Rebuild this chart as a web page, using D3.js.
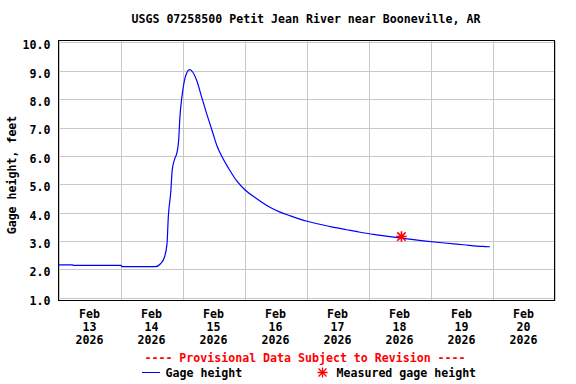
<!DOCTYPE html>
<html>
<head>
<meta charset="utf-8">
<script src="https://cdn.jsdelivr.net/npm/d3@7"></script>
<style>
  body { margin: 0; background: #fff; }
  svg text { font-family: "DejaVu Sans Mono", monospace; font-weight: bold; font-size: 11.6px; }
</style>
</head>
<body>
<svg width="576" height="384"></svg>
<script>
// gage height readings (time, feet)
var obsTimes = ["2026-02-13T00:00","2026-02-13T05:30","2026-02-13T05:45","2026-02-14T00:15","2026-02-14T00:30",
  "2026-02-14T13:30","2026-02-14T15:30","2026-02-14T17:00","2026-02-14T18:00","2026-02-14T18:30",
  "2026-02-14T19:30","2026-02-14T20:00","2026-02-14T21:00","2026-02-14T21:45","2026-02-14T22:30",
  "2026-02-14T23:00","2026-02-14T23:45","2026-02-15T00:45","2026-02-15T01:45","2026-02-15T02:45",
  "2026-02-15T04:00","2026-02-15T05:30","2026-02-15T07:30","2026-02-15T09:30","2026-02-15T11:30",
  "2026-02-15T13:15","2026-02-15T15:15","2026-02-15T17:45","2026-02-15T21:00","2026-02-16T00:15",
  "2026-02-16T04:45","2026-02-16T10:00","2026-02-16T13:45","2026-02-16T17:45","2026-02-17T00:15",
  "2026-02-17T09:15","2026-02-17T15:30","2026-02-17T20:45","2026-02-18T03:15","2026-02-18T09:45",
  "2026-02-18T15:00","2026-02-18T21:15","2026-02-19T04:30","2026-02-19T12:45","2026-02-19T20:00",
  "2026-02-19T23:00"];
var gageHeight = [2.16, 2.16, 2.14, 2.14, 2.10,
  2.10, 2.20, 2.43, 2.90, 3.84,
  4.78, 5.49, 5.90, 6.08, 6.54,
  7.37, 8.07, 8.66, 8.95, 9.04,
  8.95, 8.66, 8.05, 7.45, 6.88,
  6.38, 5.98, 5.58, 5.12, 4.80,
  4.49, 4.18, 4.02, 3.89, 3.70,
  3.51, 3.40, 3.31, 3.22, 3.14,
  3.08, 3.01, 2.94, 2.87, 2.81,
  2.80];

// field measurement
var measuredTimes = ["2026-02-18T12:45"];
var measuredHeight = [3.16];

var yTicks = [1, 2, 3, 4, 5, 6, 7, 8, 9, 10];
var tickMonths = ["Feb","Feb","Feb","Feb","Feb","Feb","Feb","Feb"];
var tickDays = ["13","14","15","16","17","18","19","20"];
var tickYears = ["2026","2026","2026","2026","2026","2026","2026","2026"];

var parse = d3.timeParse("%Y-%m-%dT%H:%M");
var series = obsTimes.map(function(t, i) { return { t: parse(t), v: gageHeight[i] }; });
var measured = measuredTimes.map(function(t, i) { return { t: parse(t), v: measuredHeight[i] }; });

var svg = d3.select("svg");
var pLeft = 58.5, pRight = 554.5, pTop = 40.5, pBottom = 300.5;

var x = d3.scaleTime()
  .domain([parse("2026-02-13T00:00"), parse("2026-02-21T00:00")])
  .range([pLeft, pRight]);
var y = d3.scaleLinear().domain([0.905, 10.07]).range([pBottom, pTop]);

// vertical grid
svg.append("g")
  .attr("transform", "translate(0," + pBottom + ")")
  .call(d3.axisBottom(x).ticks(d3.timeDay.every(1)).tickSize(-(pBottom - pTop)).tickFormat(""))
  .call(function(g) {
    g.select(".domain").remove();
    g.selectAll(".tick line").attr("stroke", "#c8c8c8").attr("shape-rendering", "crispEdges");
  });

// horizontal grid + labels
svg.append("g")
  .attr("transform", "translate(" + pLeft + ",0)")
  .call(d3.axisLeft(y).tickValues(yTicks).tickSize(-(pRight - pLeft)).tickPadding(8).tickFormat(d3.format(".1f")))
  .call(function(g) {
    g.select(".domain").remove();
    g.selectAll(".tick line").attr("stroke", "#c8c8c8").attr("shape-rendering", "crispEdges");
    g.selectAll(".tick text").attr("fill", "#000").attr("dy", "0.55em")
      .style("font-family", "DejaVu Sans Mono").style("font-size", "11.6px").style("font-weight", "bold");
  });

// frame
svg.append("rect")
  .attr("x", pLeft).attr("y", pTop)
  .attr("width", pRight - pLeft).attr("height", pBottom - pTop)
  .attr("fill", "none").attr("stroke", "#000").attr("shape-rendering", "crispEdges");

// date labels at noon of each day
var noon = parse("2026-02-13T12:00");
function dayX(i) { return x(d3.timeHour.offset(noon, 24 * i)); }
var days = d3.range(tickDays.length);
var lab = svg.append("g").selectAll("text").data(days).enter().append("text")
  .attr("text-anchor", "middle");
lab.append("tspan").attr("x", dayX).attr("y", 318).text(function(i) { return tickMonths[i]; });
lab.append("tspan").attr("x", dayX).attr("y", 331).text(function(i) { return tickDays[i]; });
lab.append("tspan").attr("x", dayX).attr("y", 344).text(function(i) { return tickYears[i]; });

// gage height line
var line = d3.line().curve(d3.curveMonotoneX)
  .x(function(d) { return x(d.t); }).y(function(d) { return y(d.v); });
svg.append("path").datum(series)
  .attr("d", line)
  .attr("fill", "none").attr("stroke", "#0000ff").attr("stroke-width", 1.2);

// asterisk symbol
var star = {
  draw: function(ctx, size) {
    var r = Math.sqrt(size) / 2;
    var k = r * 0.8;
    ctx.moveTo(-r, 0); ctx.lineTo(r, 0);
    ctx.moveTo(0, -r); ctx.lineTo(0, r);
    ctx.moveTo(-k, -k); ctx.lineTo(k, k);
    ctx.moveTo(-k, k); ctx.lineTo(k, -k);
  }
};
svg.append("g").selectAll("path").data(measured).enter().append("path")
  .attr("transform", function(d) { return "translate(" + x(d.t) + "," + y(d.v) + ")"; })
  .attr("d", d3.symbol().type(star).size(110))
  .attr("stroke", "#ff0000").attr("stroke-width", 1.6).attr("fill", "none");

// title
svg.append("text").attr("x", 306).attr("y", 23).attr("text-anchor", "middle")
  .text("USGS 07258500 Petit Jean River near Booneville, AR");

// y axis title
svg.append("text")
  .attr("transform", "translate(16,175) rotate(-90)")
  .attr("text-anchor", "middle")
  .text("Gage height, feet");

// legend
svg.append("text").attr("x", 305).attr("y", 362).attr("text-anchor", "middle").attr("fill", "#ff0000")
  .text("---- Provisional Data Subject to Revision ----");
svg.append("line").attr("x1", 142).attr("x2", 160).attr("y1", 372.5).attr("y2", 372.5)
  .attr("stroke", "#0000ff").attr("stroke-width", 1);
svg.append("text").attr("x", 165.5).attr("y", 377).text("Gage height");
svg.append("path").attr("transform", "translate(322.5,372.5)")
  .attr("d", d3.symbol().type(star).size(100))
  .attr("stroke", "#ff0000").attr("stroke-width", 1.3).attr("fill", "none");
svg.append("text").attr("x", 336.5).attr("y", 377).text("Measured gage height");
</script>
</body>
</html>
